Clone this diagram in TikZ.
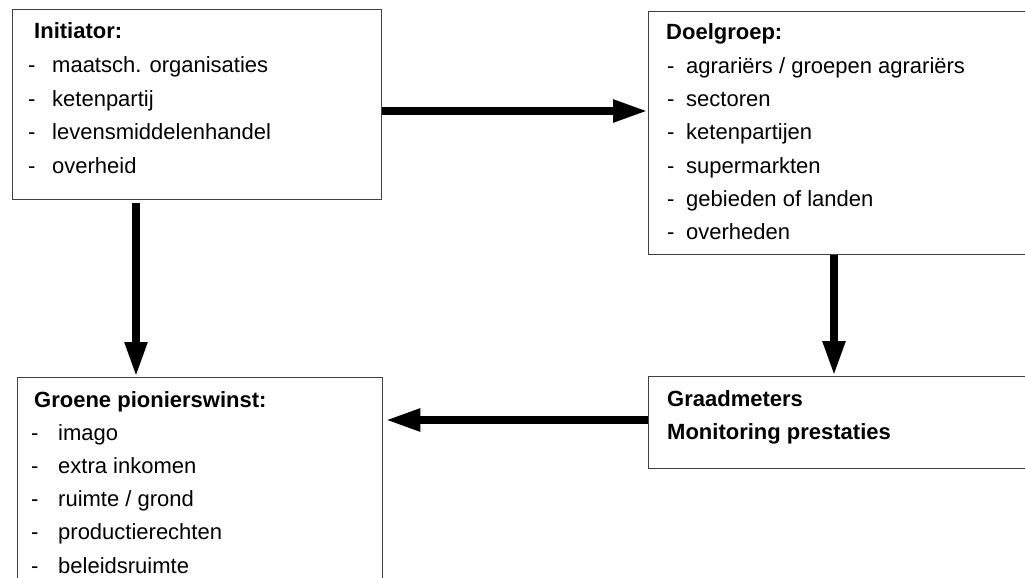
\documentclass[tikz,border=0pt]{standalone}
\usepackage{fontspec}
\setmainfont{Liberation Sans}
\usetikzlibrary{arrows.meta}
\begin{document}
\begin{tikzpicture}[x=1pt,y=-1pt,
  box/.style={draw=black!75,line width=1.3pt,rectangle,inner sep=0pt,anchor=north west},
  txt/.style={anchor=base west,inner sep=0pt,font=\fontsize{22}{26}\selectfont},
  hd/.style={anchor=base west,inner sep=0pt,font=\fontsize{22}{26}\selectfont\bfseries},
  flow/.style={line width=8pt,-{Triangle[length=35pt,width=21pt]}}]
\useasboundingbox (0,0) rectangle (1025,578);
\clip (0,0) rectangle (1025,578);
\fill[white] (0,0) rectangle (1025,578);
% boxes
\node[box,minimum width=369pt,minimum height=190pt] (ini) at (12,9) {};
\node[box,minimum width=400pt,minimum height=243pt] (doel) at (648,11) {};
\node[box,minimum width=365pt,minimum height=260pt] (groen) at (17,377) {};
\node[box,minimum width=400pt,minimum height=92pt] (graad) at (648,376) {};
% helper coordinates for connector lines
\coordinate (h1) at (0,111);
\coordinate (h2) at (0,420);
\coordinate (v1) at (136,0);
\coordinate (v2) at (834,0);
% connectors
\draw[flow] (ini.east |- h1) -- (doel.west |- h1);
\draw[flow,shorten <=3pt] (ini.south -| v1) -- (groen.north -| v1);
\draw[flow] (doel.south -| v2) -- (graad.north -| v2);
\draw[flow,shorten >=2pt] (graad.west |- h2) -- (groen.east |- h2);
% Initiator text
\node[hd] (it) at (34,39) {Initiator:};
\foreach \t [count=\k] in {maatsch. organisaties, ketenpartij, levensmiddelenhandel, overheid}{
  \node[txt] (idash\k) at (28,39+33.5*\k) {-};
  \node[txt] (item\k) at (52,39+33.5*\k) {\t};
}
% Doelgroep text
\node[hd] (dt) at (666,40) {Doelgroep:};
\foreach \t [count=\k] in {agrariërs / groepen agrariërs, sectoren, ketenpartijen, supermarkten, gebieden of landen, overheden}{
  \node[txt] (ddash\k) at (667,40+33.3*\k) {-};
  \node[txt] (ditem\k) at (686,40+33.3*\k) {\t};
}
% Groene text
\node[hd] (gt) at (34,407) {Groene pionierswinst:};
\foreach \t [count=\k] in {imago, extra inkomen, ruimte / grond, productierechten, beleidsruimte}{
  \node[txt] (gdash\k) at (31,407+33.2*\k) {-};
  \node[txt] (gitem\k) at (58,407+33.2*\k) {\t};
}
% Graadmeters text
\node[hd] (m1) at (667,406) {Graadmeters};
\node[hd] (m2) at (667,439) {Monitoring prestaties};
\end{tikzpicture}
\end{document}
